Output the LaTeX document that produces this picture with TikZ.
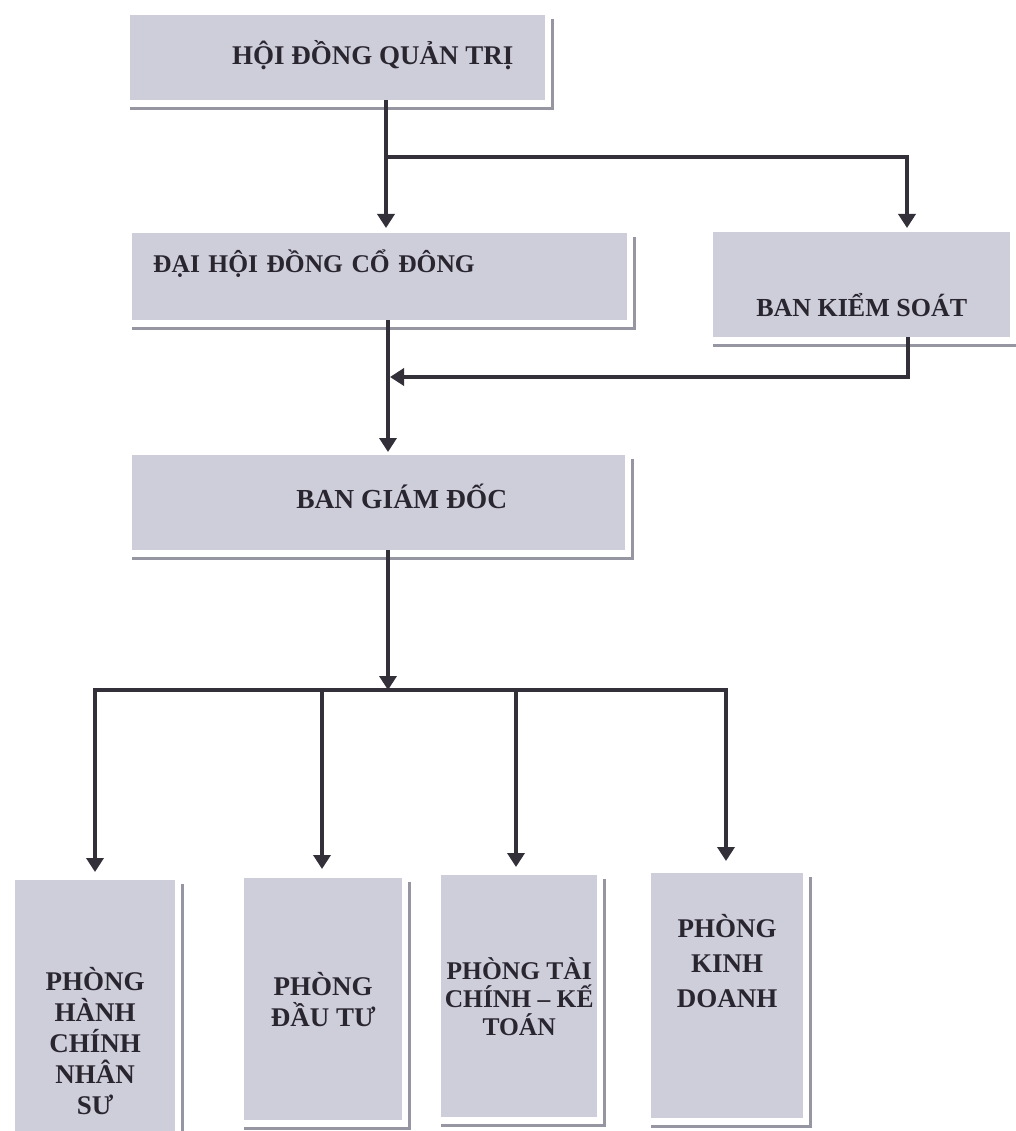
\documentclass[tikz,border=0pt]{standalone}
\usepackage{fontspec}
\setmainfont{Liberation Serif}
\usetikzlibrary{arrows.meta}
\definecolor{boxfill}{RGB}{206,206,218}
\definecolor{shadowc}{RGB}{150,150,162}
\definecolor{ink}{RGB}{42,38,48}
\definecolor{linec}{RGB}{52,48,58}
\newcommand\boxshadow[1]{\draw[shade] ([yshift=-8pt]#1.south west) -| ([xshift=7pt,yshift=-4pt]#1.north east);}
\begin{document}
\begin{tikzpicture}[x=1pt,y=-1pt,
  box/.style={fill=boxfill, inner sep=0pt, text=ink, anchor=north west,
              font=\bfseries\fontsize{26}{30}\selectfont},
  dept/.style={box, align=center},
  arr/.style={draw=linec, line width=3.5pt, -{Triangle[width=17pt,length=14pt]}},
  conn/.style={draw=linec, line width=3.5pt, line cap=rect},
  shade/.style={draw=shadowc, line width=2.5pt}]
\useasboundingbox (0,0) rectangle (1016,1131);
\fill[white] (0,0) rectangle (1016,1131);
\clip (0,0) rectangle (1016,1131);

% top level boxes
\node[box, minimum width=415pt, minimum height=85pt, text height=20pt, text depth=6pt,
      font=\bfseries\fontsize{27}{30}\selectfont]
  (hdqt) at (130,15) {\hspace*{70pt}HỘI ĐỒNG QUẢN TRỊ};
\node[box, minimum width=495pt, minimum height=87pt, text height=20pt, text depth=29pt,
      text width=453pt, align=left, font=\bfseries\fontsize{25.5}{30}\selectfont]
  (dh) at (132,233) {ĐẠI HỘI ĐỒNG CỔ ĐÔNG};
\node[box, minimum width=297pt, minimum height=105pt, text height=69pt, text depth=6pt]
  (bks) at (713,232) {BAN KIỂM SOÁT};
\node[box, minimum width=493pt, minimum height=95pt, text height=20pt, text depth=8pt,
      font=\bfseries\fontsize{27.5}{30}\selectfont]
  (bgd) at (132,455) {\hspace*{46pt}BAN GIÁM ĐỐC};

% departments
\node[dept, minimum width=160pt, minimum height=322pt, font=\bfseries\fontsize{27}{31}\selectfont]
  (p1) at (15,880) {PHÒNG\\HÀNH\\CHÍNH\\NHÂN\\SƯ};
\node[dept, minimum width=158pt, minimum height=242pt, font=\bfseries\fontsize{27}{31}\selectfont]
  (p2) at (244,878) {PHÒNG\\ĐẦU TƯ};
\node[dept, minimum width=156pt, minimum height=242pt, font=\bfseries\fontsize{25.5}{28}\selectfont]
  (p3) at (441,875) {PHÒNG TÀI\\CHÍNH – KẾ\\TOÁN};
\node[dept, minimum width=152pt, minimum height=245pt, font=\bfseries\fontsize{27}{35}\selectfont]
  (p4) at (651,873) {PHÒNG\\KINH\\DOANH\\\mbox{}\\\mbox{}};

% shadows
\boxshadow{hdqt}
\boxshadow{dh}
\boxshadow{bks}
\boxshadow{bgd}
\boxshadow{p1}
\boxshadow{p2}
\boxshadow{p3}
\boxshadow{p4}

% connectors
\coordinate (j1) at (386,157);
\coordinate (j2) at (907,157);
\coordinate (j3) at (388,377);
\coordinate (j4) at (908,377);
\coordinate (bus) at (388,690);
\coordinate (b1) at (95,690);
\coordinate (b2) at (322,690);
\coordinate (b3) at (516,690);
\coordinate (b4) at (726,690);

\draw[arr, shorten >=5pt] (hdqt.south -| j1) -- (dh.north -| j1);
\draw[arr, shorten >=4pt] (j1) -- (j2) -- (bks.north -| j2);
\draw[arr, shorten >=3pt] (dh.south -| j3) -- (bgd.north -| j3);
\draw[arr] (bks.south -| j4) -- (j4) -- ([xshift=2pt]j3);
\draw[arr] (bgd.south -| bus) -- (bus);
\draw[conn] (b1) -- (b4);
\draw[arr, shorten >=8pt] (b1) -- (p1.north -| b1);
\draw[arr, shorten >=9pt] (b2) -- (p2.north -| b2);
\draw[arr, shorten >=8pt] (b3) -- (p3.north -| b3);
\draw[arr, shorten >=12pt] (b4) -- (p4.north -| b4);
\end{tikzpicture}
\end{document}
